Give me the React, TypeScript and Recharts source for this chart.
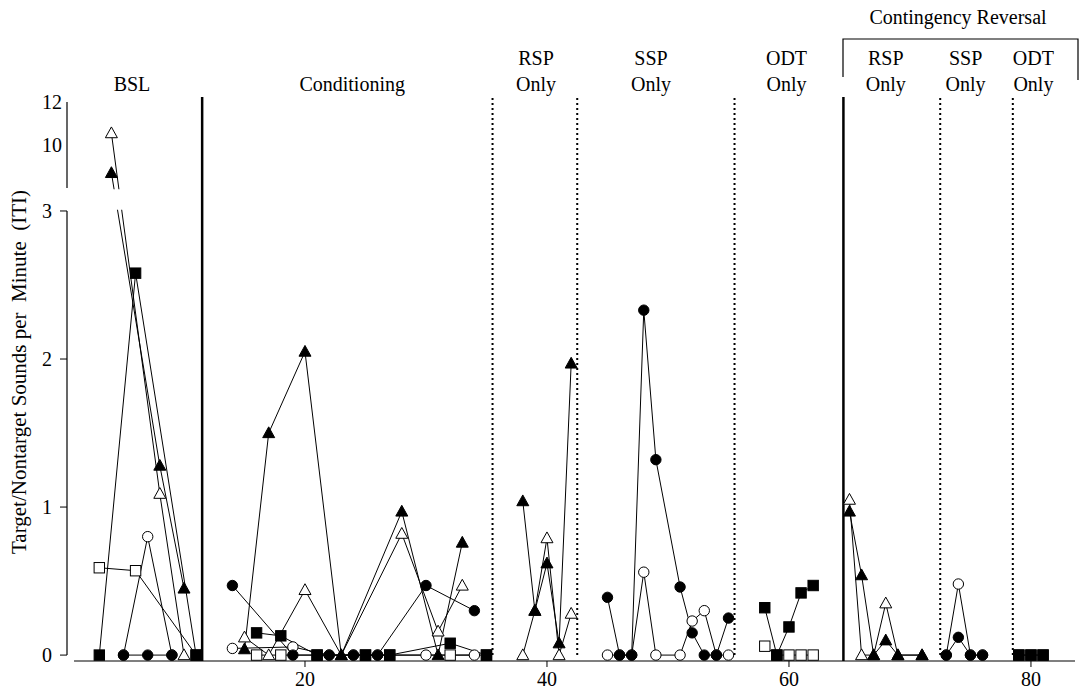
import React from 'react'
import { LineChart, Line, XAxis, YAxis, ReferenceLine, ReferenceArea } from 'recharts'

const FONT = 'Liberation Serif, Times New Roman, DejaVu Serif, serif'

// Sessions per phase block (BSL, Conditioning, probe phases, reversal probes)
const circleSessions = [[5, 7, 9], [14, 19, 22, 24, 26, 30, 34], [45, 46, 47, 48, 49, 51, 52, 53, 54, 55], [73, 74, 75, 76]]
const circleTarget = [[0, 0, 0], [0.47, 0, 0, 0, 0, 0.47, 0.3], [0.39, 0, 0, 2.33, 1.32, 0.46, 0.15, 0, 0, 0.25], [0, 0.12, 0, 0]]
const circleNontarget = [[0, 0.8, 0], [0.045, 0.055, 0, 0, 0, 0, 0], [0, 0, 0, 0.56, 0, 0, 0.23, 0.3, 0, 0], [0, 0.48, 0, 0]]

const triangleSessions = [[4, 8, 10], [15, 17, 20, 23, 28, 31, 33], [38, 39, 40, 41, 42], [65, 66, 67, 68, 69, 71]]
const triangleTarget = [[8.7, 1.28, 0.45], [0.04, 1.5, 2.05, 0, 0.97, 0, 0.76], [1.04, 0.3, 0.62, 0.08, 1.97], [0.97, 0.54, 0, 0.1, 0, 0]]
const triangleNontarget = [[10.55, 1.09, 0], [0.12, 0, 0.44, 0, 0.82, 0.16, 0.47], [0, 0.3, 0.79, 0, 0.28], [1.05, 0, 0, 0.35, 0, 0]]

const squareSessions = [[3, 6, 11], [16, 18, 21, 25, 27, 32, 35], [58, 59, 60, 61, 62], [79, 80, 81]]
const squareTarget = [[0, 2.58, 0], [0.15, 0.13, 0, 0, 0, 0.08, 0], [0.32, 0, 0.19, 0.42, 0.47], [0, 0, 0]]
const squareNontarget = [[0.59, 0.57, 0], [0, 0, 0, 0, 0, 0, 0], [0.06, 0, 0, 0, 0], [0, 0, 0]]

const solidDividers = [11.5, 64.5]
const dottedDividers = [35.5, 42.5, 55.5, 72.5, 78.5]
const xTicks = [20, 40, 60, 80]
const yTicks = [0, 1, 2, 3, 10, 12]

const phaseNames = [['BSL'], ['Conditioning'], ['RSP', 'Only'], ['SSP', 'Only'], ['ODT', 'Only'], ['RSP', 'Only'], ['SSP', 'Only'], ['ODT', 'Only']]
const phaseCenters = [5.7, 23.9, 39.1, 48.6, 59.8, 68.0, 74.6, 80.2]
const reversalTitle = 'Contingency Reversal'
const yTitle = 'Target/Nontarget Sounds per  Minute  (ITI)'

// layout
const W = 1081
const H = 692
const PLOT_LEFT = 67
const PLOT_RIGHT = 1075
const PLOT_TOP = 97
const PLOT_H = 564
const YAXIS_W = 60
const XAXIS_H = 30
const X_MIN = 0.33
const X_MAX = 83.64
const X_AXIS_START = 0.91
const Y_MIN = -0.04
const Y_MAX = 3.77

// broken axis: 0-3 linear, then 8-12 squeezed above a short gap
const BREAK_LOW = 3
const BREAK_HIGH = 8
const BREAK_GAP = 0.1554
const UPPER_SCALE = 0.1453
const toAxis = (v: number) => (v <= BREAK_LOW ? v : BREAK_LOW + BREAK_GAP + (v - BREAK_HIGH) * UPPER_SCALE)
const fromAxis = (a: number) => (a <= BREAK_LOW + 1e-6 ? a : BREAK_HIGH + (a - BREAK_LOW - BREAK_GAP) / UPPER_SCALE)

const xPx = (x: number) => PLOT_LEFT + ((x - X_MIN) * (PLOT_RIGHT - PLOT_LEFT)) / (X_MAX - X_MIN)

type Row = { x: number; y: number | null }

function buildSeries(sessions: number[][], values: number[][]): Row[] {
  const rows: Row[] = []
  sessions.forEach((block, i) => {
    if (i > 0) {
      const prev = sessions[i - 1]
      rows.push({ x: (prev[prev.length - 1] + block[0]) / 2, y: null })
    }
    block.forEach((x, j) => rows.push({ x, y: toAxis(values[i][j]) }))
  })
  return rows
}

type Shape = 'circle' | 'triangle' | 'square'

const makeDot = (shape: Shape, filled: boolean) => (props: any) => {
  const { cx, cy, payload, index } = props
  const k = `${shape}-${filled}-${index}`
  if (payload == null || payload.y == null || cx == null || cy == null) return <g key={k} />
  const fill = filled ? '#000' : '#fff'
  if (shape === 'circle') {
    return <circle key={k} cx={cx} cy={cy} r={5.2} fill={fill} stroke="#000" strokeWidth={1} />
  }
  if (shape === 'square') {
    return <rect key={k} x={cx - 5.2} y={cy - 5.2} width={10.4} height={10.4} fill={fill} stroke="#000" strokeWidth={1} />
  }
  return (
    <polygon
      key={k}
      points={`${cx},${cy - 6.2} ${cx - 6},${cy + 4.6} ${cx + 6},${cy + 4.6}`}
      fill={fill}
      stroke="#000"
      strokeWidth={1}
    />
  )
}

const series = [
  { name: 'circle-open', shape: 'circle' as Shape, filled: false, data: buildSeries(circleSessions, circleNontarget) },
  { name: 'triangle-open', shape: 'triangle' as Shape, filled: false, data: buildSeries(triangleSessions, triangleNontarget) },
  { name: 'square-open', shape: 'square' as Shape, filled: false, data: buildSeries(squareSessions, squareNontarget) },
  { name: 'circle-filled', shape: 'circle' as Shape, filled: true, data: buildSeries(circleSessions, circleTarget) },
  { name: 'triangle-filled', shape: 'triangle' as Shape, filled: true, data: buildSeries(triangleSessions, triangleTarget) },
  { name: 'square-filled', shape: 'square' as Shape, filled: true, data: buildSeries(squareSessions, squareTarget) },
]

const textStyle = { fontFamily: FONT, fontSize: 20 }

const YTick = (props: any) => {
  const { y, payload } = props
  const value = fromAxis(payload.value)
  const upper = value > BREAK_LOW
  return (
    <g>
      {!upper && <line x1={PLOT_LEFT - 7} x2={PLOT_LEFT} y1={y} y2={y} stroke="#000" strokeWidth={1} />}
      <text x={upper ? PLOT_LEFT - 5 : PLOT_LEFT - 15} y={y} dy="0.35em" textAnchor="end" fill="#000" style={textStyle}>
        {Math.round(value)}
      </text>
    </g>
  )
}

const XTick = (props: any) => {
  const { x, y, payload } = props
  return (
    <text x={x} y={y} dy="0.71em" textAnchor="middle" fill="#000" style={textStyle}>
      {payload.value}
    </text>
  )
}

export default function App() {
  const lowerTop = toAxis(BREAK_LOW)
  const upperBottom = toAxis(BREAK_HIGH)
  const upperTop = toAxis(12)
  return (
    <div style={{ position: 'absolute', left: 0, top: 0, width: W, height: H, background: '#fff', fontFamily: FONT }}>
      <LineChart
        width={W}
        height={H}
        margin={{ top: PLOT_TOP, right: W - PLOT_RIGHT, bottom: H - PLOT_TOP - XAXIS_H - PLOT_H, left: PLOT_LEFT - YAXIS_W }}
      >
        <XAxis
          type="number"
          dataKey="x"
          domain={[X_MIN, X_MAX]}
          allowDataOverflow
          ticks={xTicks}
          axisLine={false}
          tickLine={{ stroke: '#000' }}
          tickSize={6}
          tickMargin={5}
          height={XAXIS_H}
          tick={<XTick />}
        />
        <YAxis
          type="number"
          domain={[Y_MIN, Y_MAX]}
          allowDataOverflow
          ticks={yTicks.map(toAxis)}
          tick={<YTick />}
          axisLine={false}
          tickLine={false}
          width={YAXIS_W}
        />

        {solidDividers.map((x) => (
          <ReferenceLine key={`s${x}`} x={x} stroke="#000" strokeWidth={2.5} ifOverflow="visible" />
        ))}
        {dottedDividers.map((x) => (
          <ReferenceLine
            key={`d${x}`}
            segment={[{ x, y: 0 }, { x, y: Y_MAX }]}
            stroke="#000"
            strokeWidth={2}
            strokeDasharray="2 3"
            ifOverflow="visible"
          />
        ))}

        {/* axes drawn by hand so the y axis can break and the x axis can sit offset */}
        <ReferenceLine segment={[{ x: X_AXIS_START, y: Y_MIN }, { x: X_MAX, y: Y_MIN }]} stroke="#000" strokeWidth={1.2} ifOverflow="visible" />
        <ReferenceLine segment={[{ x: X_MIN, y: 0 }, { x: X_MIN, y: lowerTop }]} stroke="#000" strokeWidth={1.2} ifOverflow="visible" />
        <ReferenceLine segment={[{ x: X_MIN, y: upperBottom }, { x: X_MIN, y: upperTop }]} stroke="#000" strokeWidth={1.2} ifOverflow="visible" />

        {series.map((s) => (
          <Line
            key={s.name}
            data={s.data}
            dataKey="y"
            type="linear"
            stroke="#000"
            strokeWidth={1}
            dot={makeDot(s.shape, s.filled)}
            activeDot={false}
            connectNulls={false}
            isAnimationActive={false}
          />
        ))}

        <ReferenceArea
          x1={X_AXIS_START}
          x2={11.2}
          y1={lowerTop + 0.008}
          y2={upperBottom - 0.008}
          fill="#fff"
          fillOpacity={1}
          stroke="none"
          ifOverflow="visible"
          zIndex={450}
        />
      </LineChart>

      <svg width={W} height={H} style={{ position: 'absolute', left: 0, top: 0, pointerEvents: 'none' }}>
        <text x={958} y={24} textAnchor="middle" fill="#000" style={textStyle}>
          {reversalTitle}
        </text>
        <path d="M843,77 V39 H1078 V80" fill="none" stroke="#000" strokeWidth={1.2} />
        {phaseNames.map((lines, i) =>
          lines.map((t, j) => (
            <text
              key={`${i}-${j}`}
              x={xPx(phaseCenters[i])}
              y={91 - (lines.length - 1 - j) * 26}
              textAnchor="middle"
              fill="#000"
              style={textStyle}
            >
              {t}
            </text>
          ))
        )}
        <text
          transform="translate(26,372) rotate(-90)"
          textAnchor="middle"
          fill="#000"
          style={{ ...textStyle, fontSize: 21, whiteSpace: 'pre' }}
        >
          {yTitle}
        </text>
      </svg>
    </div>
  )
}
